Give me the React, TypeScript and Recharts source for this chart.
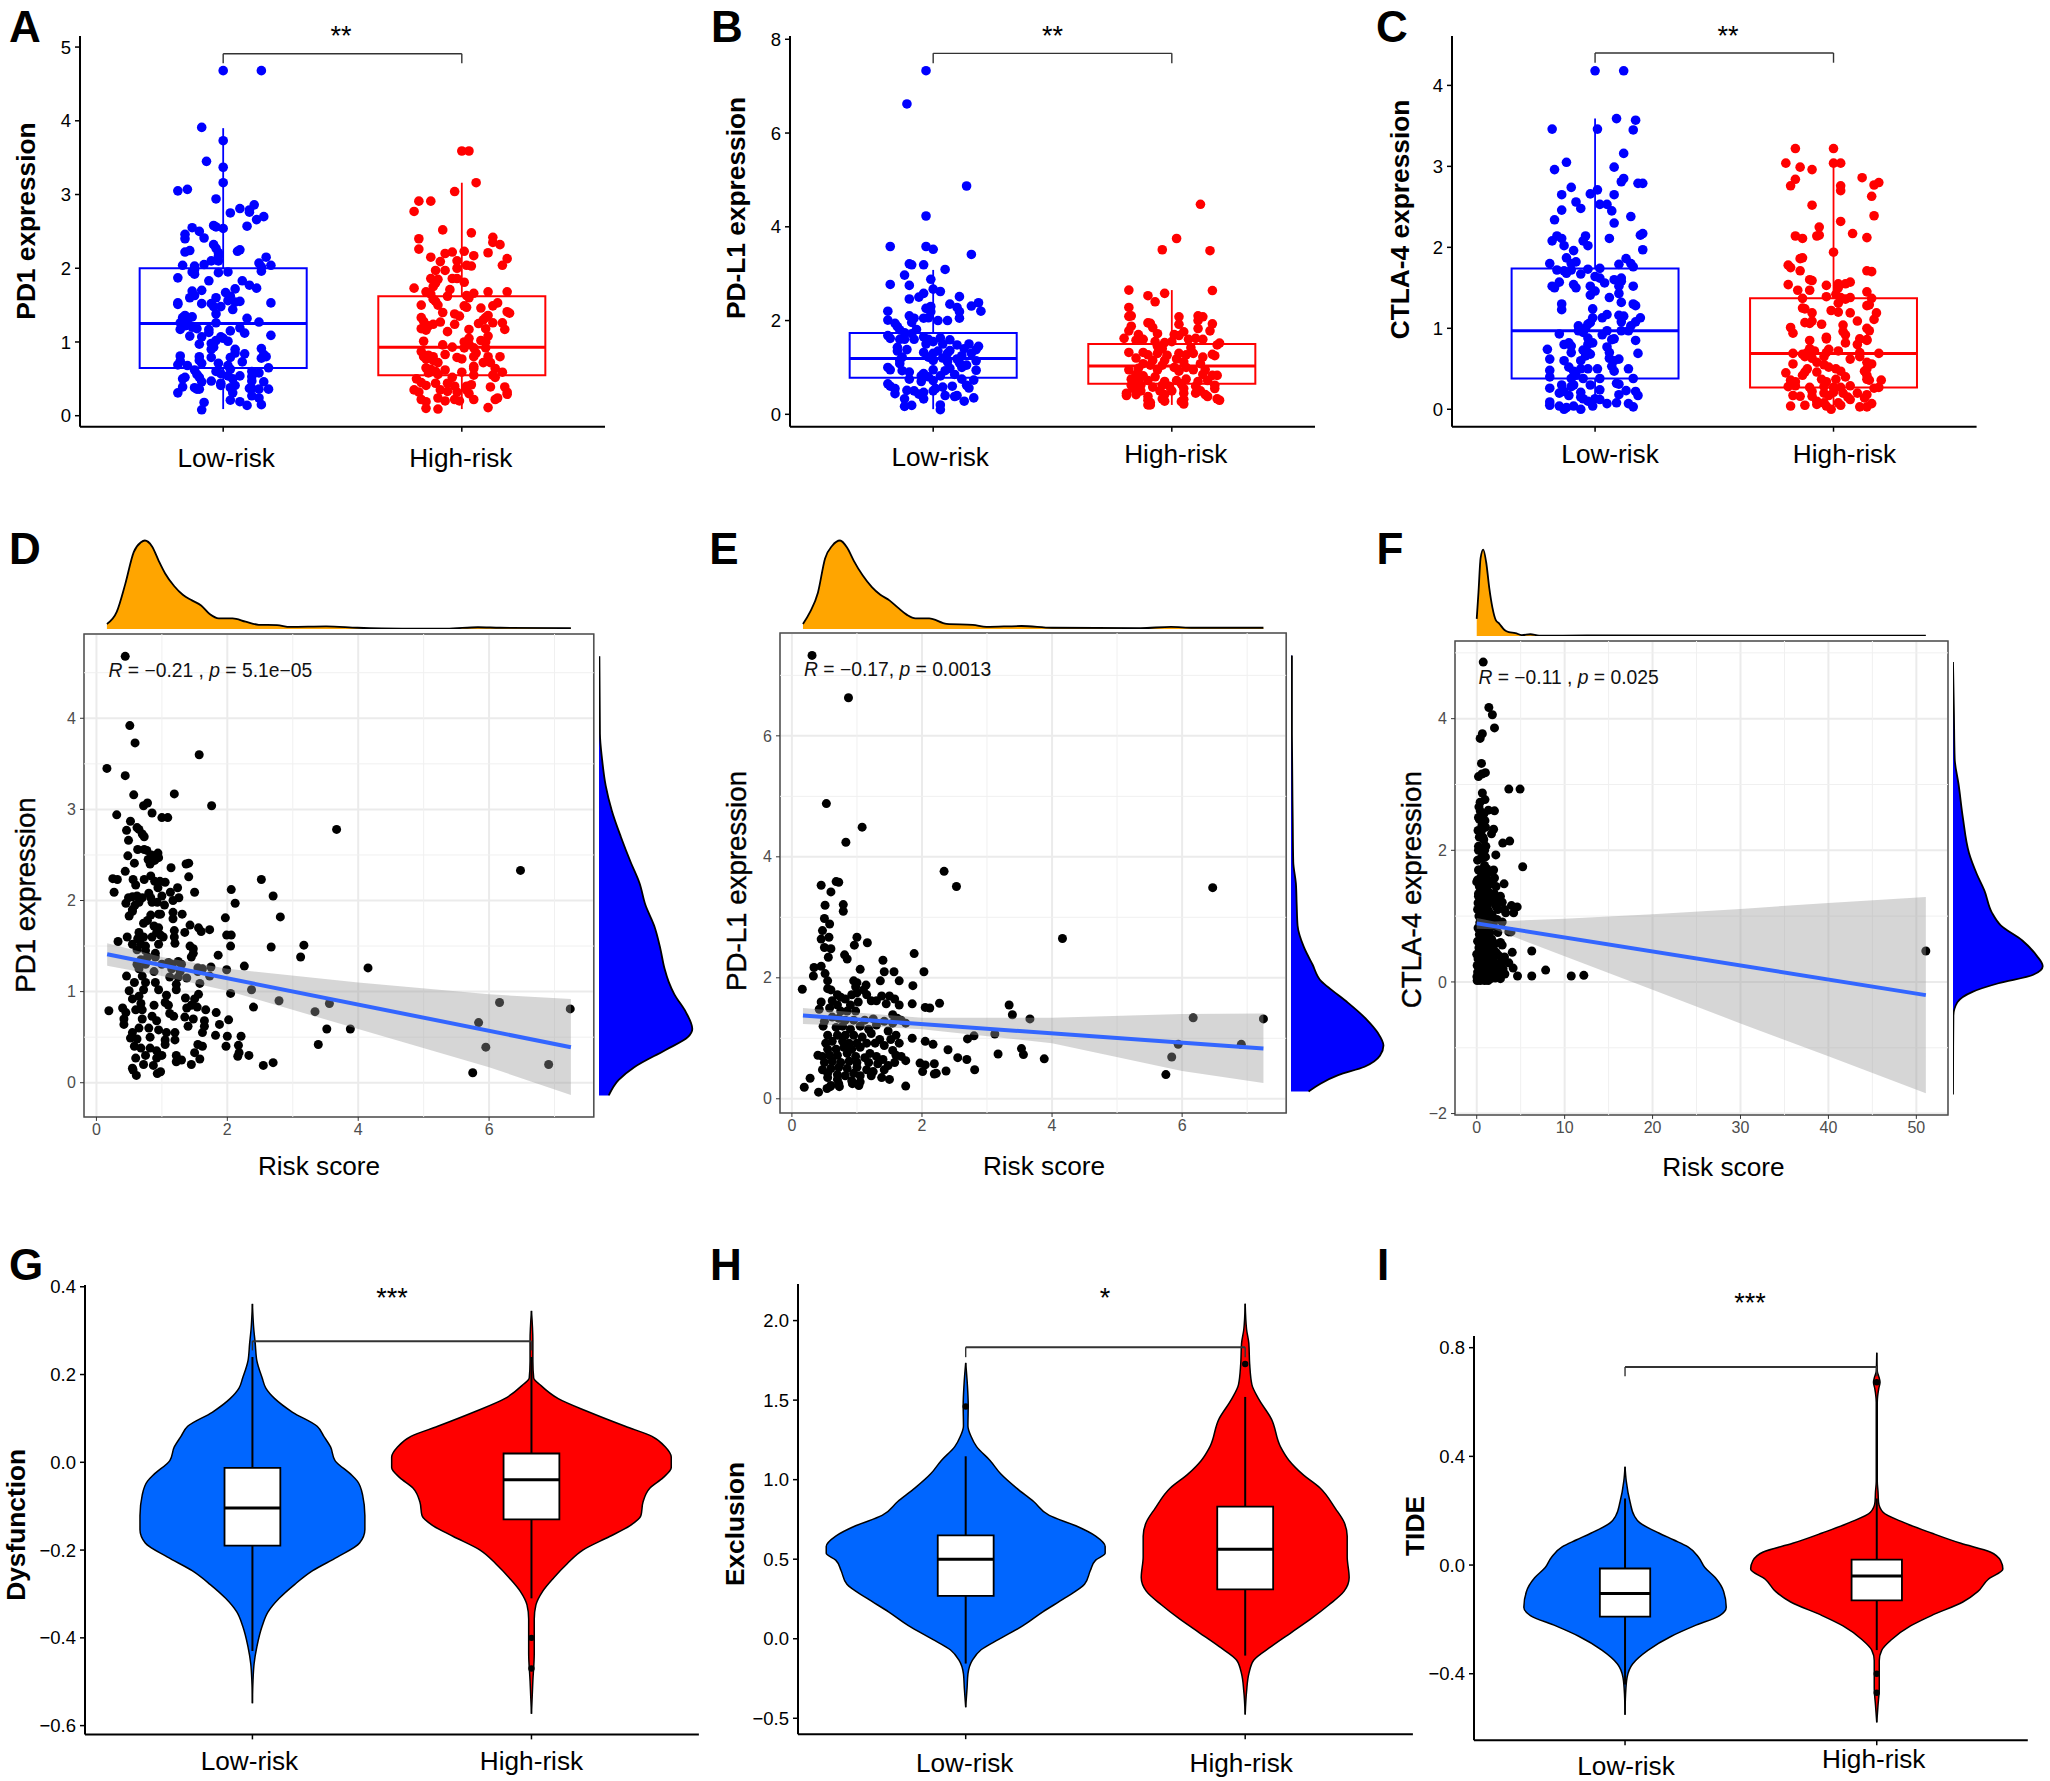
import React from 'react';
import {
  Area,
  CartesianGrid,
  ComposedChart,
  Line,
  ReferenceArea,
  ReferenceLine,
  Scatter,
  XAxis,
  YAxis,
} from 'recharts';

type Pt = number[];

const FONT = '"Liberation Sans", Arial, sans-serif';
const CATEGORIES = ['Low-risk', 'High-risk'];
const BLUE = '#0000FF';
const RED = '#FF0000';
const VIOLIN_BLUE = '#0066FF';

// jitter panels: [offset from group centre, expression]
const aLow: Pt[] = [[0,4.68],[.16,4.68],[-.09,3.91],[0,3.73],[-.07,3.45],[0,3.37],[0,3.16],[-.19,3.05],[-.15,3.07],[-.03,2.94],[.13,2.86],[.07,2.81],[.03,2.75],[.11,2.79],[.11,2.76],[.17,2.7],[.14,2.66],[.1,2.57],[-.04,2.58],[0,2.54],[-.03,2.56],[-.13,2.55],[-.1,2.5],[-.16,2.46],[-.16,2.4],[-.08,2.41],[-.04,2.32],[-.03,2.27],[-.14,2.24],[-.16,2.22],[.07,2.25],[.06,2.23],[-.02,2.21],[-.02,2.16],[.18,2.15],[-.05,2.1],[-.02,2.1],[.15,2.07],[-.08,2.05],[-.17,2.04],[-.12,2.03],[.2,2.04],[.16,2.02],[-.12,1.98],[-.13,1.95],[-.12,1.92],[-.02,1.94],[.02,1.95],[.16,1.96],[-.19,1.87],[-.06,1.83],[.08,1.83],[.11,1.77],[.14,1.73],[.05,1.72],[-.09,1.7],[-.13,1.69],[-.12,1.63],[.01,1.67],[.03,1.62],[-.14,1.6],[-.03,1.6],[.02,1.56],[.05,1.54],[.07,1.55],[.2,1.53],[-.19,1.53],[-.19,1.51],[-.09,1.52],[-.05,1.52],[-.04,1.48],[-.01,1.48],[.04,1.44],[-.03,1.38],[-.16,1.36],[-.17,1.33],[-.13,1.34],[.1,1.32],[-.18,1.26],[-.15,1.26],[-.03,1.26],[.15,1.27],[-.16,1.22],[-.13,1.2],[-.11,1.18],[-.06,1.17],[.07,1.19],[.03,1.15],[-.18,1.17],[-.06,1.13],[.09,1.12],[-.14,1.08],[-.09,1.07],[-.01,1.07],[.2,1.09],[-.03,1.02],[0,1.05],[.02,1.01],[-.05,.98],[-.1,.97],[-.04,.93],[-.05,.9],[.05,.9],[.05,.85],[.16,.91],[.09,.84],[.17,.83],[-.18,.81],[-.1,.8],[-.05,.79],[.03,.79],[.18,.8],[.16,.78],[-.1,.75],[-.18,.74],[-.19,.69],[-.15,.68],[-.09,.71],[-.02,.71],[.08,.73],[.02,.68],[.03,.63],[-.03,.6],[-.12,.62],[-.11,.56],[.15,.58],[.19,.65],[.12,.6],[-.01,.57],[.02,.54],[-.1,.52],[-.16,.52],[-.17,.5],[.12,.53],[.07,.54],[.04,.5],[.12,.47],[.17,.46],[-.09,.46],[-.05,.47],[-.01,.44],[-.01,.41],[.03,.38],[.05,.41],[-.12,.38],[-.17,.39],[-.11,.36],[-.1,.36],[.11,.37],[.12,.37],[.15,.36],[.19,.36],[-.19,.31],[.04,.31],[.12,.27],[.15,.24],[.03,.21],[.07,.19],[.1,.14],[.16,.15],[-.08,.18],[-.09,.08]];
const aHigh: Pt[] = [[0,3.59],[.03,3.59],[.06,3.16],[-.03,3.04],[-.18,2.91],[-.13,2.91],[-.2,2.77],[-.08,2.52],[.04,2.48],[-.18,2.4],[.13,2.42],[.13,2.35],[.16,2.32],[-.18,2.26],[-.04,2.22],[.01,2.23],[-.07,2.2],[.11,2.21],[-.13,2.15],[.05,2.17],[.19,2.13],[-.09,2.09],[-.02,2.1],[.17,2.04],[.02,2.04],[.04,2.03],[-.02,2],[-.11,1.97],[-.07,1.97],[-.13,1.86],[-.1,1.85],[-.04,1.86],[-.02,1.86],[.01,1.81],[-.11,1.8],[-.12,1.75],[-.2,1.73],[-.05,1.71],[-.15,1.68],[-.13,1.65],[.11,1.68],[.19,1.68],[.05,1.66],[.02,1.63],[-.06,1.62],[-.12,1.58],[.03,1.6],[-.11,1.55],[-.1,1.5],[-.17,1.5],[.15,1.53],[.13,1.49],[.08,1.46],[.02,1.47],[.01,1.49],[-.08,1.4],[-.03,1.38],[.19,1.41],[.2,1.39],[.11,1.36],[.1,1.33],[-.01,1.35],[-.17,1.33],[-.16,1.28],[.09,1.3],[.13,1.26],[-.09,1.27],[.17,1.26],[.07,1.25],[-.03,1.24],[-.12,1.24],[-.14,1.22],[-.17,1.18],[-.15,1.16],[.03,1.17],[.1,1.18],[.18,1.17],[-.06,1.14],[.11,1.08],[.03,1.05],[.08,1.02],[-.16,1.01],[.01,1],[.03,.97],[.1,1],[-.08,.96],[-.04,.93],[.01,.92],[.05,.92],[.1,.92],[-.17,.87],[.06,.85],[-.16,.8],[-.14,.82],[-.12,.8],[-.07,.83],[.05,.8],[.11,.8],[.16,.8],[-.15,.77],[-.12,.75],[-.1,.72],[-.02,.79],[0,.77],[.09,.72],[.12,.72],[.05,.67],[-.15,.65],[-.13,.63],[-.11,.6],[-.07,.62],[.05,.64],[.14,.64],[.17,.59],[.13,.55],[.14,.52],[-.14,.58],[-.1,.56],[0,.59],[-.04,.52],[.05,.55],[-.19,.5],[-.17,.45],[-.06,.44],[-.11,.44],[-.15,.41],[-.03,.4],[.04,.42],[.02,.4],[.12,.39],[.18,.39],[-.2,.35],[-.18,.32],[-.09,.35],[-.06,.33],[-.02,.32],[.02,.35],[.03,.3],[.19,.32],[.19,.29],[-.17,.22],[-.15,.19],[-.1,.24],[-.07,.2],[-.03,.22],[-.01,.2],[.05,.22],[.14,.22],[.15,.24],[-.15,.1],[-.1,.09],[.11,.11]];
const bLow: Pt[] = [[-.03,7.33],[-.11,6.62],[.14,4.87],[-.03,4.23],[-.18,3.58],[-.03,3.58],[0,3.52],[.16,3.41],[-.1,3.21],[-.09,3.19],[-.04,3.19],[.05,3.09],[-.12,2.97],[-.01,2.88],[-.18,2.77],[-.1,2.75],[0,2.67],[.03,2.62],[-.04,2.58],[-.06,2.5],[-.1,2.46],[.11,2.51],[.19,2.38],[.07,2.35],[.16,2.31],[.1,2.28],[-.03,2.26],[-.01,2.3],[.11,2.19],[.2,2.2],[-.19,2.2],[-.01,2.19],[-.1,2.1],[-.08,2.05],[-.04,2.05],[-.02,2.06],[.11,2.05],[.06,2],[.02,2],[-.19,2.01],[-.09,1.96],[-.16,1.94],[-.15,1.87],[-.07,1.81],[-.14,1.8],[-.12,1.74],[-.09,1.72],[-.19,1.68],[-.18,1.62],[-.14,1.6],[-.12,1.6],[-.08,1.6],[-.04,1.65],[-.02,1.6],[.03,1.63],[.07,1.59],[0,1.55],[-.03,1.5],[.04,1.5],[.1,1.48],[.15,1.5],[.19,1.45],[.13,1.4],[-.15,1.43],[-.11,1.38],[-.15,1.35],[-.04,1.32],[.02,1.35],[.07,1.36],[0,1.3],[.06,1.3],[.18,1.38],[.16,1.3],[.12,1.25],[-.13,1.22],[-.02,1.22],[.04,1.2],[.1,1.18],[-.14,1.15],[0,1.15],[.06,1.12],[.18,1.14],[.11,1.1],[-.19,1],[-.14,1.08],[-.18,.95],[-.13,.93],[-.1,.9],[-.04,.87],[.07,.98],[.05,.93],[.14,1.05],[.12,1],[.18,.94],[0,.95],[-.05,.82],[-.02,.8],[.03,.82],[.09,.85],[-.1,.75],[.12,.75],[.17,.73],[-.05,.7],[0,.72],[-.19,.65],[-.18,.6],[-.16,.55],[.08,.6],[.14,.62],[.15,.56],[.01,.55],[.04,.58],[-.11,.51],[-.08,.5],[-.04,.47],[0,.5],[-.16,.44],[-.06,.43],[.05,.4],[.09,.38],[.1,.4],[.17,.35],[-.12,.33],[-.04,.33],[.13,.28],[-.12,.17],[-.09,.19],[.03,.2],[.03,.1]];
const bHigh: Pt[] = [[.12,4.48],[.02,3.75],[-.04,3.51],[.16,3.49],[-.18,2.65],[.17,2.64],[-.03,2.58],[-.1,2.53],[-.07,2.4],[-.18,2.28],[-.18,2.09],[-.17,2.1],[.03,2.08],[.11,2.1],[.13,2.08],[.11,2],[-.1,1.95],[-.09,1.94],[.03,1.92],[.17,1.93],[-.17,1.88],[-.08,1.85],[.11,1.83],[-.18,1.78],[.16,1.78],[.05,1.76],[-.06,1.72],[-.14,1.7],[.01,1.7],[.03,1.68],[.07,1.6],[.1,1.62],[.13,1.6],[-.2,1.62],[-.15,1.58],[-.12,1.6],[-.07,1.55],[-.03,1.53],[0,1.55],[.2,1.52],[.19,1.48],[.08,1.42],[-.06,1.45],[-.04,1.4],[-.18,1.32],[-.12,1.32],[-.1,1.27],[-.06,1.3],[-.02,1.26],[.03,1.3],[.06,1.27],[.09,1.3],[.17,1.28],[.18,1.25],[-.15,1.2],[-.08,1.15],[-.03,1.15],[.02,1.18],[.05,1.12],[.13,1.22],[-.12,1.08],[-.09,1.05],[-.04,1.05],[.01,1],[.06,1],[.12,1.08],[-.18,.95],[-.14,.98],[-.06,.95],[.03,.92],[.09,.95],[.14,.95],[-.15,.85],[-.12,.82],[-.07,.8],[.13,.85],[.17,.83],[.19,.83],[-.17,.75],[-.14,.7],[-.1,.72],[-.03,.7],[.02,.72],[.06,.75],[.11,.7],[.15,.72],[-.17,.62],[-.13,.62],[-.08,.58],[-.04,.62],[-.01,.6],[.04,.65],[.1,.6],[.18,.62],[-.16,.55],[-.13,.5],[-.05,.5],[0,.5],[.05,.55],[.12,.5],[.18,.55],[-.19,.45],[-.19,.4],[-.15,.42],[-.1,.38],[-.03,.42],[.05,.45],[.1,.45],[.14,.42],[.15,.38],[-.1,.3],[-.04,.33],[-.03,.28],[.05,.32],[.19,.33],[.2,.3],[-.09,.25],[-.1,.2],[-.09,.2],[.04,.27],[.05,.22]];
const cLow: Pt[] = [[0,4.18],[.12,4.18],[.09,3.59],[.17,3.57],[-.18,3.46],[.01,3.46],[.16,3.45],[.12,3.16],[-.12,3.05],[.08,2.99],[-.17,2.96],[.12,2.85],[.11,2.81],[.18,2.79],[.2,2.79],[-.1,2.74],[.01,2.71],[-.02,2.66],[.08,2.65],[-.14,2.65],[-.08,2.56],[.02,2.53],[.05,2.53],[-.14,2.46],[-.06,2.48],[.07,2.45],[.15,2.38],[-.17,2.34],[.08,2.3],[.2,2.17],[.19,2.15],[-.16,2.14],[-.04,2.14],[-.14,2.11],[.06,2.11],[-.18,2.08],[-.05,2.08],[-.03,2.02],[-.13,2.02],[-.09,1.96],[.2,1.97],[-.12,1.87],[.13,1.86],[-.1,1.8],[-.08,1.82],[-.19,1.8],[.1,1.79],[.15,1.8],[.16,1.76],[-.16,1.72],[-.13,1.71],[-.12,1.68],[-.1,1.72],[-.03,1.73],[.02,1.74],[-.06,1.67],[0,1.64],[.02,1.62],[.04,1.56],[.08,1.6],[.11,1.62],[.11,1.58],[-.18,1.52],[-.15,1.57],[-.17,1.5],[-.09,1.54],[-.08,1.5],[-.02,1.52],[0,1.46],[.1,1.52],[.16,1.52],[-.02,1.41],[.06,1.38],[.1,1.43],[.11,1.32],[.16,1.3],[.17,1.28],[-.14,1.3],[-.14,1.23],[-.01,1.24],[.05,1.17],[.03,1.13],[.1,1.16],[.12,1.15],[.19,1.13],[-.01,1.13],[-.02,1.07],[.11,1.08],[.17,1.08],[-.07,1.03],[-.03,1.05],[.15,1.03],[-.04,1],[-.07,.97],[.05,.97],[.11,.97],[.14,.97],[-.15,.93],[-.05,.95],[.03,.92],[-.03,.88],[.07,.86],[.08,.87],[.17,.85],[-.11,.82],[-.13,.8],[-.03,.8],[-.01,.82],[-.1,.78],[.05,.77],[-.2,.74],[-.05,.73],[-.1,.7],[-.03,.7],[.06,.7],[.18,.69],[-.04,.66],[-.02,.68],[.06,.63],[.1,.62],[-.19,.62],[-.13,.6],[-.06,.6],[.08,.6],[.07,.53],[-.11,.52],[-.06,.5],[-.03,.5],[.01,.5],[.14,.5],[-.19,.48],[-.09,.47],[.08,.47],[-.19,.4],[-.08,.42],[-.1,.38],[-.05,.38],[.02,.38],[.16,.38],[.09,.32],[.1,.31],[-.14,.3],[-.09,.3],[-.02,.3],[-.19,.26],[-.1,.28],[.02,.24],[.13,.23],[.17,.22],[-.13,.22],[-.15,.2],[-.06,.21],[-.11,.17],[.1,.18],[.18,.17],[-.06,.15],[-.05,.13],[0,.13],[.02,.12],[-.03,.1],[-.19,.09],[-.19,.05],[-.15,.04],[-.12,.02],[-.09,.04],[-.13,0],[-.06,0],[-.01,.04],[.05,.07],[.09,.08],[.14,.07],[.16,.03]];
const cHigh: Pt[] = [[-.16,3.22],[0,3.22],[-.2,3.04],[0,3.04],[.03,3.04],[-.14,2.99],[-.09,2.96],[.12,2.86],[-.16,2.84],[.19,2.8],[.17,2.77],[-.18,2.76],[.03,2.76],[.03,2.7],[.16,2.63],[-.09,2.52],[.17,2.39],[.03,2.32],[-.06,2.25],[.08,2.17],[-.07,2.14],[-.06,2.15],[-.16,2.14],[-.13,2.11],[.14,2.12],[0,1.94],[-.14,1.86],[-.13,1.87],[-.19,1.78],[-.18,1.75],[-.14,1.71],[.14,1.71],[.16,1.7],[-.1,1.6],[-.09,1.59],[.07,1.57],[.05,1.55],[.02,1.55],[.02,1.5],[-.03,1.53],[-.19,1.54],[-.15,1.47],[-.1,1.47],[.14,1.45],[.01,1.42],[-.03,1.39],[-.13,1.37],[.03,1.38],[.07,1.38],[.05,1.36],[.16,1.37],[.02,1.31],[.15,1.29],[.14,1.28],[-.13,1.25],[-.12,1.24],[-.09,1.19],[-.01,1.22],[.02,1.2],[.07,1.19],[.18,1.19],[.1,1.09],[.17,1.11],[-.12,1.07],[-.1,1.06],[-.09,1.09],[-.05,1.05],[.04,1.04],[-.18,1.01],[.14,1],[.15,.97],[-.17,.94],[.04,.96],[.05,.92],[-.1,.85],[-.03,.87],[-.03,.89],[.11,.87],[.14,.86],[.05,.82],[.1,.8],[.14,.85],[-.1,.75],[-.08,.72],[-.02,.74],[-.03,.7],[.02,.72],[.11,.7],[-.17,.69],[-.13,.68],[-.11,.7],[.19,.69],[-.12,.65],[-.09,.63],[-.04,.65],[.07,.62],[.11,.65],[-.17,.56],[-.07,.58],[-.04,.55],[.14,.58],[.16,.56],[-.11,.5],[-.12,.46],[-.02,.52],[.01,.5],[.14,.5],[.13,.47],[-.2,.45],[-.07,.46],[-.13,.42],[.03,.47],[.14,.42],[.05,.4],[.14,.37],[.15,.36],[.2,.36],[-.18,.36],[-.16,.34],[-.05,.37],[-.03,.34],[.01,.37],[-.19,.28],[-.16,.29],[-.1,.27],[-.04,.28],[0,.27],[.03,.27],[.07,.29],[.19,.27],[.17,.26],[-.09,.22],[-.04,.2],[0,.21],[.04,.2],[.1,.2],[.14,.18],[-.17,.17],[-.14,.16],[-.09,.16],[-.02,.17],[.06,.15],[.13,.14],[.07,.12],[-.18,.04],[-.12,.05],[-.07,.1],[-.07,.06],[-.04,.08],[-.03,.04],[-.01,0],[.02,.08],[.03,.05],[.11,.03],[.14,.03],[.16,.07]];

// correlation panels: [risk score, expression]
const dPoints: Pt[] = [[.44,4.68],[.51,3.92],[.59,3.73],[1.57,3.6],[.16,3.45],[.44,3.37],[.57,3.16],[1.19,3.17],[1.76,3.04],[.72,3.04],[.78,3.07],[.85,2.96],[.31,2.94],[1,2.91],[1.09,2.91],[.52,2.87],[3.67,2.78],[6.48,2.33],[2.52,2.23],[2.06,2.12],[2.7,2.05],[2.12,1.97],[1.97,1.81],[2.81,1.82],[1.99,1.62],[2.06,1.62],[2.05,1.5],[2.67,1.49],[3.17,1.51],[3.12,1.38],[1.86,1.4],[2.26,1.28],[4.15,1.26],[1.99,1.24],[2.37,1.02],[2.05,.98],[2.4,.83],[2.79,.9],[3.34,.78],[3.56,.87],[3.52,.59],[3.88,.59],[3.39,.42],[5.84,.66],[6.16,.88],[7.24,.81],[5.95,.39],[6.91,.2],[5.75,.11],[2.55,.19],[2.7,.22],[2.33,.3],[2.16,.29],[2.18,.33],[2.17,.41],[2.21,.51],[1.98,.4],[2,.51],[1.82,.52],[1.88,.64],[2.02,.69],[1.83,.77],[1.67,.8],[.19,.79],[.46,2.77],[.62,2.8],[.65,2.78],[.7,2.73],[.73,2.7],[.49,2.66],[.48,2.49],[.63,2.56],[.73,2.56],[.77,2.55],[.84,2.5],[.94,2.52],[.95,2.47],[.89,2.44],[.79,2.45],[.82,2.4],[.58,2.41],[1.14,2.36],[1.41,2.41],[1.37,2.4],[.44,2.32],[.73,2.23],[.83,2.27],[.89,2.21],[.25,2.24],[.32,2.23],[.56,2.23],[.6,2.17],[.97,2.21],[1.05,2.2],[1.41,2.26],[.94,2.14],[1.24,2.14],[.27,2.09],[1.13,2.09],[.8,2.08],[.55,2.04],[.49,2.03],[.62,2.05],[.7,2.03],[.83,2.03],[1,2.05],[.93,1.98],[1.04,1.95],[1.17,2],[1.26,2.03],[1.5,2.09],[.45,1.97],[.59,1.95],[.55,1.88],[.65,1.98],[.85,1.98],[.5,1.83],[.55,1.9],[.83,1.84],[.95,1.85],[1.17,1.87],[1.31,1.85],[.98,1.85],[1.17,1.8],[.72,1.75],[.78,1.78],[.88,1.72],[.95,1.7],[1.43,1.73],[1.56,1.7],[1.73,1.68],[1.6,1.66],[1.35,1.65],[1.19,1.67],[.65,1.65],[.72,1.6],[.92,1.65],[.98,1.62],[.47,1.6],[.63,1.58],[.85,1.6],[1.02,1.6],[1.19,1.6],[.33,1.55],[.55,1.52],[.68,1.52],[.75,1.5],[.95,1.52],[1.2,1.53],[1.43,1.5],[1.48,1.47],[.62,1.46],[.75,1.45],[.9,1.42],[1.48,1.42],[.68,1.35],[.78,1.38],[.9,1.38],[1.1,1.32],[1.25,1.33],[1.45,1.38],[.62,1.3],[.75,1.3],[1,1.3],[1.15,1.3],[1.3,1.3],[.65,1.25],[.88,1.22],[1.15,1.25],[1.28,1.22],[1.55,1.26],[1.62,1.25],[1.75,1.27],[.46,1.17],[.7,1.17],[1.12,1.16],[1.25,1.16],[1.38,1.15],[1.55,1.22],[1.73,1.17],[.58,1.1],[.75,1.1],[.9,1.1],[1.22,1.08],[1.58,1.09],[.5,1.01],[.72,1.02],[.95,1.02],[1.22,1.02],[.55,.92],[.65,.95],[1.07,.96],[1.36,.93],[1.5,.92],[1.56,.97],[.68,.87],[.88,.85],[1.05,.88],[1.1,.85],[1.45,.85],[1.38,.82],[1.54,.83],[.4,.82],[.45,.77],[.6,.8],[.7,.8],[1.12,.76],[.42,.7],[.42,.64],[.7,.7],[.85,.73],[.92,.68],[1.18,.73],[1.35,.72],[1.48,.7],[1.65,.68],[.65,.6],[.8,.6],[.95,.58],[1.07,.55],[1.2,.55],[1.4,.62],[1.65,.62],[.55,.55],[.52,.49],[.62,.48],[.82,.5],[1.05,.47],[1.2,.47],[1.62,.55],[.58,.4],[.68,.38],[.82,.38],[1.05,.42],[.92,.35],[1,.3],[1.55,.42],[1.62,.4],[.6,.27],[.75,.3],[.92,.27],[1.22,.3],[1.5,.33],[1.3,.25],[1.22,.23],[1.45,.2],[1.58,.26],[.72,.2],[.87,.19],[.55,.16],[.61,.08],[.93,.1],[.98,.12],[.56,.14]];
const ePoints: Pt[] = [[.31,7.33],[.87,6.63],[.53,4.88],[1.08,4.49],[.83,4.24],[2.34,3.76],[2.53,3.51],[6.47,3.49],[.45,3.53],[.6,3.42],[.68,3.59],[.72,3.58],[.51,3.2],[.79,3.21],[.79,3.1],[.5,2.98],[.58,2.89],[.47,2.78],[4.16,2.65],[.57,2.67],[.45,2.64],[1,2.67],[1.16,2.58],[.96,2.54],[.5,2.5],[.6,2.48],[1.88,2.4],[.81,2.38],[.56,2.34],[.85,2.31],[1.4,2.29],[.34,2.17],[.45,2.19],[1.05,2.14],[1.57,2.1],[2.03,2.1],[1.42,2.1],[.33,2.03],[.51,2.07],[1.36,1.95],[1.65,1.95],[1.86,1.87],[.16,1.81],[1.14,1.88],[3.34,1.55],[3.39,1.39],[3.66,1.32],[6.17,1.34],[7.25,1.32],[2.27,1.58],[1.85,1.57],[2.05,1.51],[2.12,1.5],[3.12,1.07],[2.8,1.04],[2.7,.99],[2.05,.95],[2.17,.9],[5.94,.9],[6.91,.9],[5.84,.69],[2.4,.81],[3.17,.74],[3.53,.83],[3.56,.73],[3.88,.66],[2.55,.68],[2.69,.65],[2.81,.48],[2.37,.46],[2.19,.58],[1.97,.59],[2.05,.56],[2.01,.45],[2.19,.41],[2.22,.42],[5.75,.4],[1.75,.21],[.19,.19],[.28,.34],[.41,.11],[.54,.17],[.59,.2],[.55,1.82],[.62,1.62],[.7,1.72],[.75,1.68],[.82,1.65],[.92,1.72],[1,1.75],[1.1,1.8],[1.15,1.72],[1.22,1.62],[1.3,1.62],[1.38,1.7],[1.5,1.7],[1.58,1.65],[1.45,1.57],[1.65,1.55],[.45,1.6],[.58,1.5],[.7,1.55],[.9,1.55],[1.02,1.6],[1,1.92],[.95,1.95],[.98,1.85],[.55,1.95],[.6,1.8],[.42,1.48],[.75,1.45],[.85,1.45],[.98,1.45],[1.55,1.39],[1.62,1.33],[1.68,1.3],[.5,1.28],[.62,1.35],[.72,1.33],[.82,1.3],[.95,1.3],[1.12,1.3],[1.25,1.32],[1.42,1.28],[1.55,1.25],[1.75,1.25],[.48,1.2],[.68,1.18],[.78,1.2],[.9,1.15],[1.05,1.2],[1.18,1.15],[1.3,1.22],[1.48,1.12],[1.6,1.05],[1.85,1],[.55,1.05],[.7,1.05],[.82,1.05],[.95,1.05],[1.08,1.02],[1.22,1.08],[1.35,.98],[1.52,.98],[1.65,.92],[.52,.92],[.62,.95],[.78,.95],[.88,.92],[1,.92],[1.15,.92],[1.28,.92],[1.42,.88],[.55,.82],[.68,.82],[.8,.85],[.92,.82],[1.05,.85],[1.2,.75],[1.55,.8],[.4,.72],[.47,.7],[.58,.72],[.7,.72],[.85,.75],[.98,.7],[1.12,.68],[1.3,.7],[1.4,.65],[1.6,.72],[1.68,.7],[1.75,.63],[.5,.6],[.62,.62],[.75,.6],[.88,.62],[1,.6],[1.18,.6],[1.32,.58],[1.48,.55],[1.58,.6],[.47,.48],[.6,.5],[.72,.52],[.85,.5],[1,.52],[1.15,.48],[1.25,.45],[1.42,.48],[.55,.42],[.7,.4],[.82,.38],[.95,.42],[1.05,.38],[1.22,.38],[1.38,.35],[.55,.35],[.7,.32],[.92,.3],[1.05,.28],[1.5,.32],[.72,.25],[.93,.25],[1.03,.22],[.73,.2],[.6,.22]];
const fPoints: Pt[] = [[.74,4.86],[1.38,4.17],[1.78,4.06],[2.02,3.86],[.64,3.77],[.39,3.7],[.54,3.32],[.99,3.18],[.59,3.16],[.2,3.12],[3.65,2.93],[4.93,2.93],[.64,2.87],[.94,2.77],[.39,2.73],[.25,2.66],[1.33,2.61],[2.02,2.6],[.7,2.55],[.3,2.47],[.94,2.45],[.6,2.38],[1.92,2.32],[1.68,2.25],[3.75,2.14],[2.96,2.11],[.8,2.16],[.2,2.06],[1.04,2.06],[2.17,1.93],[5.23,1.75],[.6,1.9],[.89,1.77],[.2,1.7],[1.92,1.7],[1.43,1.67],[2.02,1.58],[0,1.52],[3.11,1.49],[.7,1.51],[1.33,1.47],[.2,1.34],[2,1.34],[2.5,1.25],[2.9,1.21],[3.95,1.16],[4.6,1.14],[3.15,1.1],[4.2,1.05],[6.26,.47],[4.04,.45],[6.26,.09],[7.84,.18],[10.75,.09],[12.18,.1],[51.08,.47],[4.64,.09],[4.14,.21],[3.65,.29],[3.16,.38],[2.9,.56],[3.65,.76],[3.9,.76],[2.9,.91],[.3,1.45],[.5,1.42],[.8,1.45],[1.1,1.4],[1.5,1.35],[.2,1.3],[.6,1.3],[1,1.32],[1.4,1.25],[1.8,1.22],[.15,1.2],[.45,1.2],[.85,1.2],[1.2,1.15],[2.2,1.15],[.1,1.1],[.55,1.08],[.95,1.05],[1.35,1.08],[1.75,1.02],[.25,1],[.7,.98],[1.1,.95],[1.55,.95],[2.3,.95],[.35,.9],[.85,.88],[1.3,.85],[1.9,.85],[.15,.82],[.55,.78],[1,.78],[1.5,.75],[2.4,.75],[.3,.72],[.75,.7],[1.2,.68],[1.7,.65],[.1,.62],[.5,.6],[.95,.58],[1.4,.6],[2.1,.58],[2.7,.6],[.25,.52],[.7,.5],[1.15,.5],[1.65,.5],[2.2,.45],[0,.42],[.4,.42],[.85,.4],[1.3,.42],[1.8,.38],[2.5,.4],[.15,.35],[.6,.32],[1.05,.32],[1.5,.3],[2,.3],[2.8,.3],[.05,.25],[.35,.25],[.8,.22],[1.25,.22],[1.7,.22],[2.3,.2],[3,.2],[.1,.15],[.5,.15],[.95,.15],[1.4,.13],[1.9,.13],[2.6,.12],[.02,.08],[.3,.07],[.7,.05],[1.1,.05],[1.6,.05],[2.1,.06],[2.7,.05],[3.2,.12],[.05,.02],[.4,.02],[.9,.02],[1.3,.02],[.1,1.55],[.5,1.6],[.9,1.58],[1.3,1.55],[.3,1.7],[.75,1.68],[1.15,1.72],[.1,1.85],[.5,1.88],[1,1.9],[.2,2],[.55,2.02],[.9,2],[.3,2.2],[.7,2.2],[.15,2.3],[.55,2.3],[1,2.35],[.4,2.6],[.8,2.55],[.2,2.5],[1.7,1.5],[2.2,1.45],[2.7,1.3],[3.3,1.05],[2.4,1.1]];

// fit line ends and ribbon: [x, lower, upper]
const dFit: Pt[] = [[.164,1.41],[7.25,.39]];
const eFit: Pt[] = [[.17,1.376],[7.25,.833]];
const fFit: Pt[] = [[0,.89],[51.08,-.2]];
const dRibbon: Pt[] = [[.164,1.285,1.53],[1,1.17,1.38],[2,1.01,1.25],[4,.59,1.1],[6,.17,.97],[7.25,-.136,.92]];
const eRibbon: Pt[] = [[.17,1.235,1.5],[1.5,1.18,1.38],[2,1.15,1.34],[4,.92,1.34],[6,.46,1.4],[7.25,.26,1.41]];
const fRibbon: Pt[] = [[0,.81,.97],[2,.8,.92],[10,.39,.96],[20,-.12,1.03],[30,-.63,1.11],[40,-1.13,1.2],[51.08,-1.69,1.29]];

// marginal densities: [x or y value, density]
const dTop: Pt[] = [[.16,.041],[.31,.138],[.44,.362],[.57,.62],[.68,.7],[.74,.714],[.85,.666],[.95,.552],[1.05,.448],[1.19,.345],[1.32,.276],[1.46,.231],[1.6,.19],[1.73,.121],[1.87,.086],[2.08,.086],[2.28,.059],[2.48,.034],[2.76,.031],[2.96,.017],[3.51,.021],[3.99,.01],[4.67,.003],[5.35,.003],[5.83,.014],[6.17,.01],[7.25,.007]];
const eTop: Pt[] = [[.17,.041],[.28,.138],[.4,.293],[.51,.569],[.62,.672],[.74,.714],[.85,.655],[.95,.552],[1.09,.431],[1.23,.338],[1.36,.276],[1.5,.231],[1.63,.172],[1.77,.114],[1.9,.086],[2.11,.086],[2.38,.041],[2.78,.034],[2.99,.017],[3.53,.024],[4,.01],[5.36,.007],[5.83,.017],[6.17,.01],[7.25,.01]];
const fTop: Pt[] = [[0,.138],[.2,.352],[.44,.628],[.74,.697],[1.08,.593],[1.43,.386],[1.78,.231],[2.17,.128],[2.56,.1],[3.16,.048],[3.65,.031],[4.39,.024],[5.13,.007],[6.11,.014],[7.1,.003],[12.5,.004],[51.08,.003]];
const dRight: Pt[] = [[4.68,.003],[3.83,.007],[3.55,.023],[3.26,.05],[2.98,.097],[2.7,.163],[2.42,.237],[2.19,.303],[1.95,.347],[1.72,.413],[1.48,.457],[1.25,.49],[1.11,.52],[.97,.563],[.78,.647],[.59,.697],[.5,.663],[.36,.497],[.17,.263],[.03,.147],[-.14,.073]];
const eRight: Pt[] = [[7.33,.007],[6.03,.007],[4.62,.013],[3.92,.017],[3.56,.037],[3.21,.043],[2.86,.05],[2.51,.097],[2.22,.163],[1.94,.23],[1.8,.307],[1.59,.43],[1.31,.573],[1.09,.657],[.88,.7],[.71,.673],[.53,.557],[.39,.357],[.25,.223],[.12,.133]];
const fRight: Pt[] = [[4.86,0],[4.1,.007],[3.39,.013],[3,.043],[2.48,.077],[1.96,.123],[1.64,.183],[1.38,.243],[1.05,.3],[.86,.367],[.63,.533],[.4,.643],[.24,.69],[.11,.617],[-.02,.35],[-.15,.15],[-.31,.033],[-.51,.003],[-1.71,0]];

// violins: [y, half width in category units]
const gLowShape: Pt[] = [[.361,0],[.302,.005],[.271,.01],[.231,.016],[.192,.035],[.169,.048],[.145,.08],[.114,.144],[.082,.232],[.059,.256],[.035,.28],[.004,.296],[-.027,.352],[-.043,.376],[-.075,.395],[-.122,.403],[-.153,.403],[-.184,.384],[-.216,.304],[-.247,.216],[-.278,.152],[-.31,.096],[-.341,.056],[-.373,.035],[-.42,.016],[-.459,.006],[-.498,.002],[-.549,0]];
const gHighShape: Pt[] = [[.345,0],[.278,.005],[.231,.005],[.192,.008],[.176,.032],[.145,.096],[.114,.208],[.082,.336],[.059,.432],[.035,.48],[.012,.501],[-.012,.501],[-.035,.472],[-.059,.424],[-.09,.4],[-.122,.392],[-.145,.352],[-.169,.28],[-.2,.184],[-.231,.128],[-.263,.08],[-.294,.04],[-.325,.016],[-.357,.01],[-.435,.01],[-.498,.005],[-.573,0]];
const hLowShape: Pt[] = [[1.734,0],[1.597,.006],[1.468,.009],[1.338,.008],[1.273,.019],[1.208,.039],[1.121,.087],[1.035,.126],[.948,.181],[.861,.244],[.775,.299],[.71,.394],[.645,.465],[.58,.499],[.537,.499],[.494,.465],[.429,.446],[.342,.425],[.255,.354],[.169,.276],[.082,.205],[-.004,.118],[-.069,.055],[-.134,.024],[-.221,.008],[-.307,.005],[-.431,0]];
const hHighShape: Pt[] = [[2.106,0],[1.944,.005],[1.857,.013],[1.727,.016],[1.597,.024],[1.511,.047],[1.381,.094],[1.208,.126],[1.121,.157],[1.035,.205],[.948,.268],[.818,.323],[.732,.354],[.645,.365],[.515,.365],[.385,.372],[.299,.354],[.212,.299],[.126,.236],[.039,.165],[-.048,.094],[-.134,.031],[-.221,.013],[-.329,.005],[-.476,0]];
const iLowShape: Pt[] = [[.362,0],[.308,.005],[.232,.02],[.181,.037],[.156,.058],[.118,.134],[.093,.192],[.067,.25],[.029,.292],[-.009,.317],[-.047,.359],[-.098,.392],[-.155,.402],[-.186,.376],[-.224,.275],[-.262,.184],[-.313,.092],[-.364,.03],[-.414,.008],[-.478,.002],[-.551,0]];
const iHighShape: Pt[] = [[.781,0],[.714,.002],[.688,.01],[.673,.013],[.65,.008],[.599,.002],[.308,.002],[.27,.005],[.232,.007],[.194,.025],[.156,.109],[.118,.217],[.08,.334],[.048,.451],[.016,.492],[-.015,.501],[-.053,.442],[-.098,.401],[-.136,.342],[-.186,.217],[-.224,.134],[-.275,.058],[-.313,.02],[-.351,.01],[-.452,.01],[-.516,.005],[-.579,0]];

const minus = (s: string) => s.replace('-', '\u2212');

const PAD = { l: 70, r: 12, t: 12, b: 62 };

function Frame({ box, children, layout }: any) {
  const w = box.right - box.left;
  const h = box.bottom - box.top;
  return (
    <div style={{ position: 'absolute', left: box.left - PAD.l, top: box.top - PAD.t }}>
      <ComposedChart
        width={w + PAD.l + PAD.r}
        height={h + PAD.t + PAD.b}
        layout={layout}
        margin={{ top: PAD.t, right: PAD.r, left: 0, bottom: 0 }}
      >
        {children}
      </ComposedChart>
    </div>
  );
}

function categoryTick(baselines: number[], xShift: number[], bottom: number) {
  return (props: any) => {
    const i = props.payload.value === 1 ? 0 : 1;
    return (
      <text
        x={props.x + xShift[i]}
        y={props.y - 5 + baselines[i] - bottom}
        textAnchor="middle"
        fontSize={26.2}
        fontFamily={FONT}
        fill="#000"
      >
        {CATEGORIES[i]}
      </text>
    );
  };
}

const dot = (r: number, fill: string) => (p: any) => (
  <circle cx={p.cx} cy={p.cy} r={r} fill={fill} />
);

const segment = (x1: number, y1: number, x2: number, y2: number) => [
  { x: x1, y: y1 },
  { x: x2, y: y2 },
];

function axes(p: any, vertical = false) {
  const common = { stroke: '#000', strokeWidth: 2 };
  return [
    <XAxis
      key="x"
      type="number"
      dataKey="x"
      domain={[0.4, 2.6]}
      ticks={[1, 2]}
      allowDataOverflow
      height={PAD.b}
      axisLine={common}
      tickLine={{ stroke: '#000', strokeWidth: 1.5 }}
      tickSize={5}
      tickMargin={0}
      interval={0}
      tick={categoryTick(p.labelBase, p.labelShift, p.bottom)}
    />,
    <YAxis
      key="y"
      type="number"
      dataKey="y"
      domain={p.yDomain}
      ticks={p.yTicks}
      reversed={vertical}
      allowDataOverflow
      width={PAD.l}
      axisLine={common}
      tickLine={{ stroke: '#000', strokeWidth: 1.5 }}
      tickSize={5}
      tickMargin={4}
      interval={0}
      tick={{ fontSize: 18.5, fill: '#000', fontFamily: FONT }}
      tickFormatter={(v: number) => minus(p.decimals ? v.toFixed(p.decimals) : String(v))}
    />,
  ];
}

function bracket(p: any) {
  const [y, drop] = p.bracket;
  return [
    <ReferenceLine key="b1" segment={segment(1, y, 2, y)} stroke="#333" strokeWidth={p.bracketW ?? 1.4} />,
    <ReferenceLine key="b2" segment={segment(1, y, 1, drop)} stroke="#333" strokeWidth={1.4} />,
    <ReferenceLine key="b3" segment={segment(2, y, 2, drop)} stroke="#333" strokeWidth={1.4} />,
  ];
}

function JitterPanel({ p }: any) {
  const groups = [
    { c: 1, pts: p.low, box: p.lowBox, color: BLUE },
    { c: 2, pts: p.high, box: p.highBox, color: RED },
  ];
  return (
    <Frame box={p}>
      {axes(p)}
      {groups.map((g) => (
        <Scatter
          key={g.c}
          data={g.pts.map((q: Pt) => ({ x: g.c + q[0], y: q[1] }))}
          dataKey="y"
          shape={dot(4.8, g.color)}
          isAnimationActive={false}
        />
      ))}
      {groups.flatMap((g) => {
        const [wLo, q1, med, q3, wHi] = g.box;
        return [
          <ReferenceArea key={`a${g.c}`} x1={g.c - 0.35} x2={g.c + 0.35} y1={q1} y2={q3} fill="none" stroke={g.color} strokeWidth={2} />,
          <ReferenceLine key={`m${g.c}`} segment={segment(g.c - 0.35, med, g.c + 0.35, med)} stroke={g.color} strokeWidth={3} />,
          <ReferenceLine key={`u${g.c}`} segment={segment(g.c, q3, g.c, wHi)} stroke={g.color} strokeWidth={1.8} />,
          <ReferenceLine key={`l${g.c}`} segment={segment(g.c, q1, g.c, wLo)} stroke={g.color} strokeWidth={1.8} />,
        ];
      })}
      {bracket(p)}
    </Frame>
  );
}

function ViolinPanel({ p }: any) {
  const groups = [
    { c: 1, shape: p.lowShape, box: p.lowBox, color: VIOLIN_BLUE, out: p.lowOut },
    { c: 2, shape: p.highShape, box: p.highBox, color: RED, out: p.highOut },
  ];
  return (
    <Frame box={p} layout="vertical">
      {axes(p, true)}
      {groups.map((g) => (
        <Area
          key={g.c}
          data={g.shape.map((q: Pt) => ({ y: q[0], range: [g.c - q[1], g.c + q[1]] }))}
          dataKey="range"
          type="monotone"
          fill={g.color}
          fillOpacity={1}
          stroke="#000"
          strokeWidth={1.5}
          isAnimationActive={false}
        />
      ))}
      {groups.flatMap((g) => {
        const [wLo, q1, med, q3, wHi] = g.box;
        return [
          <ReferenceLine key={`u${g.c}`} segment={segment(g.c, q3, g.c, wHi)} stroke="#000" strokeWidth={2} />,
          <ReferenceLine key={`l${g.c}`} segment={segment(g.c, q1, g.c, wLo)} stroke="#000" strokeWidth={2} />,
          <ReferenceArea key={`a${g.c}`} x1={g.c - 0.1} x2={g.c + 0.1} y1={q1} y2={q3} fill="#fff" fillOpacity={1} stroke="#000" strokeWidth={1.8} />,
          <ReferenceLine key={`m${g.c}`} segment={segment(g.c - 0.1, med, g.c + 0.1, med)} stroke="#000" strokeWidth={3} />,
        ];
      })}
      {groups.map((g) => (
        <Scatter
          key={`o${g.c}`}
          data={g.out.map((y: number) => ({ x: g.c, y }))}
          dataKey="y"
          shape={dot(3.2, '#000')}
          isAnimationActive={false}
        />
      ))}
      {bracket(p)}
    </Frame>
  );
}

function CorrelationPanel({ p }: any) {
  const [xa, xb] = p.xDomain;
  const [ya, yb] = p.yDomain;
  return (
    <Frame box={p}>
      <CartesianGrid stroke="#ebebeb" strokeWidth={2} />
      <XAxis
        type="number"
        dataKey="x"
        domain={p.xDomain}
        ticks={p.xTicks}
        allowDataOverflow
        height={PAD.b}
        axisLine={false}
        tickLine={{ stroke: '#333' }}
        tickSize={4}
        tickMargin={3}
        interval={0}
        tick={{ fontSize: 16, fill: '#4d4d4d', fontFamily: FONT }}
      />
      <YAxis
        type="number"
        dataKey="y"
        domain={p.yDomain}
        ticks={p.yTicks}
        allowDataOverflow
        width={PAD.l}
        axisLine={false}
        tickLine={{ stroke: '#333' }}
        tickSize={4}
        tickMargin={4}
        interval={0}
        tick={{ fontSize: 16, fill: '#4d4d4d', fontFamily: FONT }}
        tickFormatter={(v: number) => minus(String(v))}
      />
      {p.xMinor.map((x: number) => (
        <ReferenceLine key={`vm${x}`} x={x} stroke="#f0f0f0" strokeWidth={1} />
      ))}
      {p.yMinor.map((y: number) => (
        <ReferenceLine key={`hm${y}`} y={y} stroke="#f0f0f0" strokeWidth={1} />
      ))}
      <Scatter
        data={p.points.map((q: Pt) => ({ x: q[0], y: q[1] }))}
        dataKey="y"
        shape={dot(4.5, '#000')}
        isAnimationActive={false}
      />
      {/* ribbon sits over the points, as in the source figure */}
      <Area
        data={p.ribbon.map((q: Pt) => ({ x: q[0], ci: [q[1], q[2]] }))}
        dataKey="ci"
        type="linear"
        fill="#999999"
        fillOpacity={0.4}
        stroke="none"
        zIndex={700}
        isAnimationActive={false}
      />
      <Line
        data={p.fit.map((q: Pt) => ({ x: q[0], y: q[1] }))}
        dataKey="y"
        type="linear"
        stroke="#3366FF"
        strokeWidth={4}
        dot={false}
        zIndex={800}
        isAnimationActive={false}
      />
      <ReferenceArea x1={xa} x2={xb} y1={ya} y2={yb} fill="none" stroke="#4d4d4d" strokeWidth={1.5} />
    </Frame>
  );
}

function TopDensity({ p }: any) {
  return (
    <div style={{ position: 'absolute', left: p.left, top: p.topBase - 90 }}>
      <ComposedChart
        width={p.right - p.left}
        height={90}
        data={p.topCurve.map((q: Pt) => ({ x: q[0], d: q[1] }))}
        margin={{ top: 0, right: 0, left: 0, bottom: 0 }}
      >
        <XAxis hide type="number" dataKey="x" domain={p.xDomain} allowDataOverflow />
        <YAxis hide type="number" domain={[0, 0.726]} allowDataOverflow />
        <Area dataKey="d" type="monotone" fill="#FFA500" fillOpacity={1} stroke="#000" strokeWidth={1.8} isAnimationActive={false} />
      </ComposedChart>
    </div>
  );
}

function RightDensity({ p }: any) {
  return (
    <div style={{ position: 'absolute', left: p.rightBase, top: p.top }}>
      <ComposedChart
        width={100}
        height={p.bottom - p.top}
        layout="vertical"
        data={p.rightCurve.map((q: Pt) => ({ y: q[0], d: q[1] }))}
        margin={{ top: 0, right: 0, left: 0, bottom: 0 }}
      >
        <XAxis hide type="number" domain={[0, p.rightMax]} allowDataOverflow />
        <YAxis hide reversed type="number" dataKey="y" domain={p.yDomain} allowDataOverflow />
        <Area dataKey="d" type="monotone" fill="#0000FF" fillOpacity={1} stroke="#000" strokeWidth={1.8} isAnimationActive={false} />
      </ComposedChart>
    </div>
  );
}

const jitterPanels = [
  { left: 80, right: 605, top: 36, bottom: 426.7, yDomain: [-0.149, 5.15], yTicks: [0, 1, 2, 3, 4, 5], low: aLow, high: aHigh, lowBox: [0.09, 0.646, 1.25, 2, 3.9], highBox: [0.09, 0.55, 0.93, 1.62, 3.16], bracket: [4.91, 4.78], labelBase: [467, 467], labelShift: [3, -1] },
  { left: 790, right: 1315, top: 36, bottom: 426.7, yDomain: [-0.264, 8.07], yTicks: [0, 2, 4, 6, 8], low: bLow, high: bHigh, lowBox: [0.11, 0.78, 1.19, 1.735, 3.08], highBox: [0.2, 0.65, 1.03, 1.5, 2.65], bracket: [7.7, 7.49], labelBase: [466, 463], labelShift: [7, 4] },
  { left: 1452.4, right: 1977, top: 36, bottom: 426.7, yDomain: [-0.215, 4.61], yTicks: [0, 1, 2, 3, 4], low: cLow, high: cHigh, lowBox: [0, 0.38, 0.97, 1.74, 3.59], highBox: [0, 0.27, 0.69, 1.37, 3.04], bracket: [4.4, 4.28], labelBase: [463, 463], labelShift: [15, 11] },
];

const correlationPanels = [
  { left: 84, right: 593.8, top: 633.7, bottom: 1116.6, xDomain: [-0.19, 7.6], yDomain: [-0.375, 4.925], xTicks: [0, 2, 4, 6], yTicks: [0, 1, 2, 3, 4], xMinor: [1, 3, 5, 7], yMinor: [0.5, 1.5, 2.5, 3.5, 4.5], points: dPoints, fit: dFit, ribbon: dRibbon, topCurve: dTop, rightCurve: dRight, topBase: 629, rightBase: 598.7, rightMax: 0.747 },
  { left: 780.1, right: 1286.3, top: 633.2, bottom: 1113.2, xDomain: [-0.183, 7.6], yDomain: [-0.235, 7.7], xTicks: [0, 2, 4, 6], yTicks: [0, 2, 4, 6], xMinor: [1, 3, 5, 7], yMinor: [1, 3, 5, 7], points: ePoints, fit: eFit, ribbon: eRibbon, topCurve: eTop, rightCurve: eRight, topBase: 628.5, rightBase: 1291, rightMax: 0.757 },
  { left: 1455, right: 1948, top: 641.4, bottom: 1115.3, xDomain: [-2.47, 53.6], yDomain: [-2.02, 5.18], xTicks: [0, 10, 20, 30, 40, 50], yTicks: [-2, 0, 2, 4], xMinor: [5, 15, 25, 35, 45], yMinor: [-1, 1, 3, 5], points: fPoints, fit: fFit, ribbon: fRibbon, topCurve: fTop, rightCurve: fRight, topBase: 636.2, rightBase: 1953.3, rightMax: 0.769 },
];

const violinPanels = [
  { left: 84.8, right: 698.7, top: 1284.8, bottom: 1734.2, decimals: 1, yDomain: [-0.62, 0.404], yTicks: [-0.6, -0.4, -0.2, 0, 0.2, 0.4], lowShape: gLowShape, highShape: gHighShape, lowBox: [-0.43, -0.19, -0.104, -0.0125, 0.24], highBox: [-0.31, -0.13, -0.04, 0.02, 0.24], lowOut: [], highOut: [-0.4, -0.47], bracket: [0.276, 0.255], bracketW: 2, labelBase: [1769.6, 1769.6], labelShift: [-3, 0] },
  { left: 797.7, right: 1412.6, top: 1284, bottom: 1734.2, decimals: 1, yDomain: [-0.6, 2.23], yTicks: [-0.5, 0, 0.5, 1, 1.5, 2], lowShape: hLowShape, highShape: hHighShape, lowBox: [-0.156, 0.27, 0.5, 0.65, 1.147], highBox: [-0.106, 0.31, 0.563, 0.83, 1.52], lowOut: [1.46], highOut: [1.727], bracket: [1.833, 1.77], bracketW: 2, labelBase: [1772, 1772], labelShift: [-1, -4] },
  { left: 1474.2, right: 2028, top: 1335.7, bottom: 1740, decimals: 1, yDomain: [-0.645, 0.843], yTicks: [-0.4, 0, 0.4, 0.8], lowShape: iLowShape, highShape: iHighShape, lowBox: [-0.44, -0.19, -0.105, -0.0127, 0.245], highBox: [-0.313, -0.13, -0.04, 0.02, 0.245], lowOut: [], highOut: [0.673, -0.4, -0.47], bracket: [0.729, 0.695], bracketW: 2, labelBase: [1775, 1767.5], labelShift: [1, -3] },
];

// panel letters, stars and axis titles
const letters = [
  ['A', 25, 42], ['B', 727, 42], ['C', 1392, 42],
  ['D', 25, 564], ['E', 724, 564], ['F', 1390, 564],
  ['G', 26, 1280], ['H', 726, 1280], ['I', 1383, 1280],
];
const stars = [
  ['**', 341, 29], ['**', 1052.6, 29], ['**', 1728, 29],
  ['***', 392, 1291], ['*', 1105, 1291], ['***', 1750, 1296],
];
const yTitles = [
  ['PD1 expression', 35, 221, 700], ['PD-L1 expression', 745, 208, 700], ['CTLA-4 expression', 1409, 219.5, 700],
  ['PD1 expression', 35, 895, 400], ['PD-L1 expression', 746, 881, 400], ['CTLA-4 expression', 1421, 889.7, 400],
  ['Dysfunction', 25, 1524.8, 700], ['Exclusion', 744, 1524, 700], ['TIDE', 1424, 1526, 700],
];
const xTitles = [
  ['Risk score', 319, 1175],
  ['Risk score', 1044, 1175],
  ['Risk score', 1723.4, 1176],
];
const stats = [
  ['R', ' = \u22120.21 , ', 'p', ' = 5.1e\u221205', 108.5, 677],
  ['R', ' = \u22120.17, ', 'p', ' = 0.0013', 804, 676],
  ['R', ' = \u22120.11 , ', 'p', ' = 0.025', 1478.4, 684],
];

function Labels() {
  return (
    <svg width={2050} height={1781} style={{ position: 'absolute', left: 0, top: 0, pointerEvents: 'none' }} fontFamily={FONT}>
      {letters.map(([t, x, y]) => (
        <text key={String(t)} x={x} y={y} fontSize={44} fontWeight={700} textAnchor="middle" fill="#000">{t}</text>
      ))}
      {stars.map(([t, x, y], i) => (
        <text key={i} x={x} y={Number(y) + 15.6} fontSize={27} textAnchor="middle" fill="#000">{t}</text>
      ))}
      {yTitles.map(([t, x, y, w], i) => (
        <text
          key={i}
          transform={`translate(${x} ${y}) rotate(-90)`}
          fontSize={w === 700 ? 26.3 : 27.7}
          fontWeight={w}
          stroke={w === 700 ? 'none' : '#000'}
          strokeWidth={w === 700 ? 0 : 0.4}
          textAnchor="middle"
          fill="#000"
        >
          {t}
        </text>
      ))}
      {xTitles.map(([t, x, y], i) => (
        <text key={i} x={x} y={y} fontSize={26.2} textAnchor="middle" fill="#000">{t}</text>
      ))}
      {stats.map(([a, b, c, d, x, y], i) => (
        <text key={i} x={x} y={y} fontSize={19.3} fill="#111" style={{ whiteSpace: 'pre' }}>
          <tspan fontStyle="italic">{a}</tspan>
          {b}
          <tspan fontStyle="italic">{c}</tspan>
          {d}
        </text>
      ))}
    </svg>
  );
}

export default function App() {
  return (
    <div style={{ position: 'absolute', left: 0, top: 0, width: 2050, height: 1781, background: '#fff', overflow: 'hidden', fontFamily: FONT }}>
      {jitterPanels.map((p, i) => <JitterPanel key={i} p={p} />)}
      {correlationPanels.map((p, i) => (
        <React.Fragment key={i}>
          <TopDensity p={p} />
          <CorrelationPanel p={p} />
          <RightDensity p={p} />
        </React.Fragment>
      ))}
      {violinPanels.map((p, i) => <ViolinPanel key={i} p={p} />)}
      <Labels />
    </div>
  );
}
